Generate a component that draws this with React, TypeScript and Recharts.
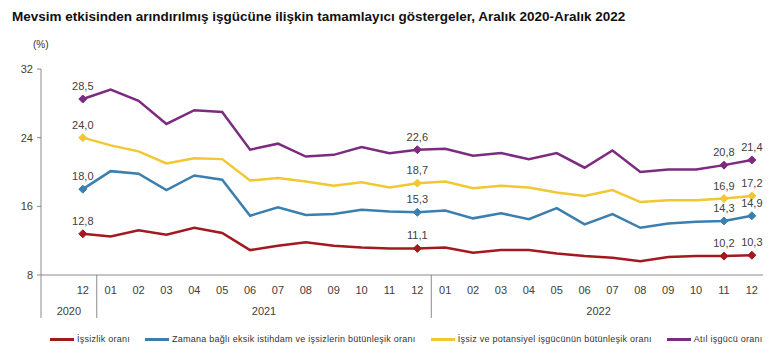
import React from 'react';
import { LineChart, Line, XAxis, YAxis, ReferenceLine, LabelList } from 'recharts';

const months = ['12', '01', '02', '03', '04', '05', '06', '07', '08', '09', '10', '11', '12', '01', '02', '03', '04', '05', '06', '07', '08', '09', '10', '11', '12'];
const years = ['2020', '2021', '2022'];
const yearCenters = [-0.5, 6.5, 18.5];
const yearBreaks = [-1.5, 0.5, 12.5];
const labelledIdx = [0, 12, 23, 24];

const isizlik = [12.8, 12.5, 13.2, 12.7, 13.5, 12.9, 10.9, 11.4, 11.8, 11.4, 11.2, 11.1, 11.1, 11.2, 10.6, 10.9, 10.9, 10.5, 10.2, 10.0, 9.6, 10.1, 10.2, 10.2, 10.3];
const zamana = [18.0, 20.1, 19.8, 17.9, 19.6, 19.1, 14.9, 15.9, 15.0, 15.1, 15.6, 15.4, 15.3, 15.5, 14.6, 15.2, 14.5, 15.8, 13.9, 15.1, 13.5, 14.0, 14.2, 14.3, 14.9];
const potansiyel = [24.0, 23.1, 22.4, 21.0, 21.6, 21.5, 19.0, 19.3, 18.9, 18.4, 18.8, 18.2, 18.7, 18.9, 18.1, 18.4, 18.2, 17.6, 17.2, 17.9, 16.5, 16.7, 16.7, 16.9, 17.2];
const atil = [28.5, 29.6, 28.3, 25.6, 27.2, 27.0, 22.6, 23.3, 21.8, 22.0, 22.9, 22.2, 22.6, 22.7, 21.9, 22.2, 21.5, 22.2, 20.5, 22.5, 20.0, 20.3, 20.3, 20.8, 21.4];

const yTicks = [8, 16, 24, 32];

const series = [
  { key: 'isizlik', name: 'İşsizlik oranı', color: '#a2191f' },
  { key: 'zamana', name: 'Zamana bağlı eksik istihdam ve işsizlerin bütünleşik oranı', color: '#3b7fae' },
  { key: 'potansiyel', name: 'İşsiz ve potansiyel işgücünün bütünleşik oranı', color: '#f1c732' },
  { key: 'atil', name: 'Atıl işgücü oranı', color: '#7c2b80' },
];

const data = months.map((m, i) => ({
  idx: i,
  month: m,
  isizlik: isizlik[i],
  zamana: zamana[i],
  potansiyel: potansiyel[i],
  atil: atil[i],
}));

const FONT = 'Arial, "Liberation Sans", sans-serif';
const AXIS = '#8a8a8a';

const diamondDot = (color: string) => (props: any) => {
  const { cx, cy, index } = props;
  if (!labelledIdx.includes(index) || cx == null) return <g key={index} />;
  const s = 4;
  return (
    <path
      key={index}
      d={`M${cx},${cy - s}L${cx + s},${cy}L${cx},${cy + s}L${cx - s},${cy}Z`}
      fill={color}
      stroke={color}
    />
  );
};

const pointLabel = (props: any) => {
  const { x, y, value, index } = props;
  if (!labelledIdx.includes(index)) return null;
  return (
    <text x={x} y={y - 9} textAnchor="middle" fontSize={11} fill="#404040" fontFamily={FONT}>
      {Number(value).toFixed(1).replace('.', ',')}
    </text>
  );
};

export default function App() {
  return (
    <div style={{ position: 'absolute', left: 0, top: 0, width: 770, height: 360, background: '#fff', fontFamily: FONT }}>
      <div style={{ position: 'absolute', left: 12, top: 9, fontSize: 13.5, fontWeight: 'bold', color: '#111', whiteSpace: 'nowrap' }}>
        Mevsim etkisinden arındırılmış işgücüne ilişkin tamamlayıcı göstergeler, Aralık 2020-Aralık 2022
      </div>
      <div style={{ position: 'absolute', left: 33, top: 39, fontSize: 10, color: '#333' }}>(%)</div>

      <LineChart width={770} height={360} data={data} margin={{ top: 69, right: 7, left: 0, bottom: 38 }}>
        <XAxis
          dataKey="idx"
          type="number"
          domain={[-1.5, 24.4]}
          ticks={months.map((_, i) => i)}
          tickFormatter={(v: number) => months[v]}
          interval={0}
          height={22}
          stroke={AXIS}
          tickLine={false}
          tickSize={0}
          tickMargin={11}
          tick={{ fontSize: 11, fill: '#404040', fontFamily: FONT }}
        />
        <XAxis
          xAxisId="year"
          dataKey="idx"
          type="number"
          domain={[-1.5, 24.4]}
          ticks={yearCenters}
          tickFormatter={(v: number) => years[yearCenters.indexOf(v)]}
          interval={0}
          height={25}
          axisLine={false}
          tickLine={false}
          tickSize={0}
          tickMargin={10}
          tick={{ fontSize: 11, fill: '#404040', fontFamily: FONT }}
        />
        <YAxis
          domain={[8, 32]}
          ticks={yTicks}
          width={41}
          stroke={AXIS}
          tickSize={4}
          tickMargin={4}
          tick={{ fontSize: 11, fill: '#404040', fontFamily: FONT }}
        />
        {yearBreaks.map((b) => (
          <ReferenceLine
            key={b}
            segment={[{ x: b, y: 8 }, { x: b, y: 3 }]}
            ifOverflow="visible"
            stroke={AXIS}
          />
        ))}
        {series.map((s) => (
          <Line
            key={s.key}
            dataKey={s.key}
            name={s.name}
            stroke={s.color}
            strokeWidth={2.5}
            dot={diamondDot(s.color)}
            activeDot={false}
            isAnimationActive={false}
          >
            <LabelList dataKey={s.key} content={pointLabel} />
          </Line>
        ))}
      </LineChart>

      <div style={{ position: 'absolute', left: 50, top: 334, display: 'flex', alignItems: 'center', gap: 15, fontSize: 9, letterSpacing: 0.25, color: '#333', whiteSpace: 'nowrap' }}>
        {series.map((s) => (
          <div key={s.key} style={{ display: 'flex', alignItems: 'center', gap: 3 }}>
            <div style={{ width: 24, height: 3, background: s.color }} />
            <span>{s.name}</span>
          </div>
        ))}
      </div>
    </div>
  );
}
